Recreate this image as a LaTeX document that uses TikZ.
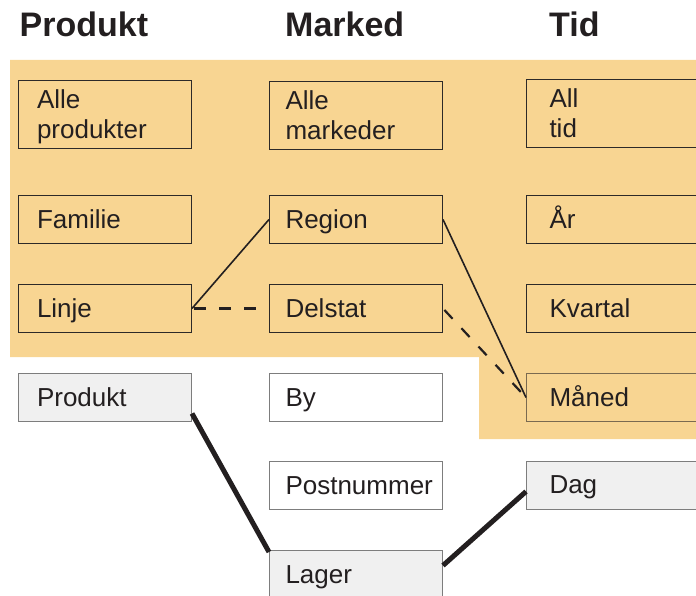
\documentclass[tikz,border=0pt]{standalone}
\usepackage{fontspec}
\setmainfont{Liberation Sans}
\usetikzlibrary{calc}
\definecolor{ink}{RGB}{35,31,32}
\definecolor{band}{RGB}{248,213,146}
\definecolor{edge}{RGB}{45,42,40}
\definecolor{softedge}{RGB}{125,125,125}
\definecolor{paleg}{RGB}{240,240,240}
\definecolor{brownedge}{RGB}{122,106,80}
\tikzset{
  level/.style={draw=edge, line width=1pt, anchor=north west, minimum height=48pt,
    inner ysep=0pt, align=left, text=ink, font=\fontsize{26}{30}\selectfont,
    text height=18.6pt, text depth=0pt},
  twoline/.style={minimum height=68pt, text height=18.6pt, text depth=30pt},
  colA/.style={inner xsep=18.5pt, text width=136pt},
  colB/.style={inner xsep=16pt, text width=141pt},
  colC/.style={inner xsep=23pt, text width=134pt},
  plain/.style={draw=softedge, fill=white},
  base/.style={draw=softedge, fill=paleg},
  header/.style={anchor=base west, text=ink, font=\fontsize{34}{40}\selectfont\bfseries, inner sep=0pt},
  thinlink/.style={draw=ink, line width=1.6pt},
  dashlink/.style={draw=ink, line width=2.2pt, dash pattern=on 12pt off 13pt, dash phase=-2pt},
  thicklink/.style={draw=ink, line width=5pt}
}
\begin{document}
\begin{tikzpicture}[x=1pt,y=-1pt]
\useasboundingbox (0,0) rectangle (696,596);
% aggregated area
\fill[band] (10,60) -- (696,60) -- (696,439) -- (479,439) -- (479,357) -- (10,357) -- cycle;

% column headings
\node[header] (hprod) at (19.5,37) {Produkt};
\node[header] (hmark) at (285,37) {Marked};
\node[header] (htid) at (549,37) {Tid};

% product hierarchy
\node[level,colA,twoline] (alleprod) at (18,80) {Alle\\produkter};
\node[level,colA] (familie) at (18,195) {Familie};
\node[level,colA] (linje) at (18,284) {Linje};
\node[level,colA,base] (produkt) at (18,373) {Produkt};

% market hierarchy
\node[level,colB,twoline] (allemark) at (269,81) {Alle\\markeder};
\node[level,colB] (region) at (269,195) {Region};
\node[level,colB] (delstat) at (269,284) {Delstat};
\node[level,colB,plain] (by) at (269,373) {By};
\node[level,colB,plain] (postnr) at (269,461) {Postnummer};
\node[level,colB,base] (lager) at (269,550) {Lager};

% time hierarchy
\node[level,colC,twoline] (alltid) at (526,79) {All\\tid};
\node[level,colC] (aar) at (526,195) {År};
\node[level,colC] (kvartal) at (526,284) {Kvartal};
\node[level,colC,draw=brownedge] (maaned) at (526,373) {Måned};
\node[level,colC,base,text height=15.6pt] (dag) at (526,461) {Dag};

% links between levels
\draw[thinlink] (linje.east) -- (region.west);
\draw[dashlink] (linje.east) -- (delstat.west);
\draw[thinlink] (region.east) -- (maaned.west);
\draw[dashlink] (delstat.east) -- (maaned.west);
\draw[thicklink] ($(produkt.east)+(0,16)$) -- ($(lager.north west)+(0,2)$);
\draw[thicklink] ($(lager.east)+(0,-9)$) -- ($(dag.west)+(0,6)$);
\end{tikzpicture}
\end{document}
